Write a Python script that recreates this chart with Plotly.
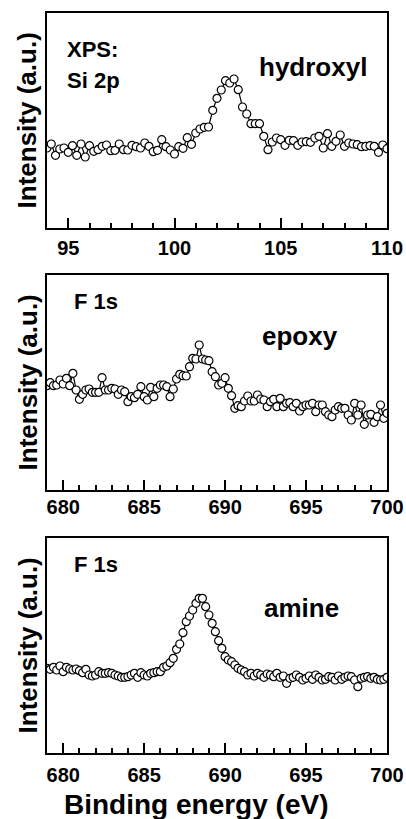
import plotly.graph_objects as go

# ---------------- data ----------------
# Panel 1: Si 2p, hydroxyl  (binding energy starts 94.0 eV, step 0.2 eV)
si2p_start = 94.0
si2p_step = 0.2
si2p_hydroxyl = [80, 84, 72.7, 79, 80, 75.7, 82.3, 72.7, 84, 71, 82.3, 76.7, 78.3, 81.7, 83,
                 77.3, 77.7, 84, 78.3, 78, 82.7, 81.3, 80, 85, 81.7, 76.3, 77.7, 88.3, 81.3, 78,
                 74, 81.3, 79.7, 90.3, 83.7, 95, 99, 100.7, 101, 117.7, 129.7, 138, 147.3, 145,
                 149, 138.3, 121, 114, 104.3, 104.3, 104.3, 91.7, 78.3, 86, 90, 88.3, 82.7, 87.7,
                 87.3, 82.7, 86, 86.3, 85.7, 90, 91.7, 80, 94.3, 81.7, 86.7, 93, 81.7, 85, 84,
                 83.3, 81.3, 81.7, 82.3, 81.7, 75.7, 83, 79.3]

# Panel 2: F 1s, epoxy  (starts 679.0 eV, step 0.2 eV)
f1s_start = 679.0
f1s_step = 0.2
f1s_epoxy = [104.3, 107.3, 104.3, 105, 110, 106, 111.7, 104.3, 116.7, 100, 90.7, 95.7, 100, 101,
             97.7, 97.7, 97.7, 112.3, 100, 100, 101.7, 101, 95.7, 100, 98.3, 88.3, 93.3, 92.3,
             95.7, 103.3, 93.3, 90, 102.7, 93.3, 101.7, 105, 105, 103.3, 93.3, 101, 111, 115.7,
             114.3, 114, 123.3, 131.7, 131, 145, 131, 130, 129.3, 118.3, 113.3, 105,
             106.7, 112.3, 101.7, 94.3, 81.7, 84.3, 83.3, 89, 94, 89, 89, 95, 91, 90, 83.3,
             88.3, 90.7, 83.3, 91.7, 83.3, 86.7, 87.3, 83.3, 86.7, 79, 83.3, 85, 85, 86.7,
             78.3, 85, 85, 78.3, 75, 73.3, 80, 83.3, 81.7, 81.7, 75, 70, 86.7, 75, 85, 65.7,
             75, 75.7, 67.7, 73.3, 85, 71.7, 76.7]

# Panel 3: F 1s, amine  (starts 679.0 eV, step 0.2 eV)
f1s_amine = [84.7, 83.7, 85.7, 83, 87, 81.3, 85.7, 84, 83, 84, 82.3, 80.3, 83.7, 78, 77, 78,
             81.3, 79.7, 79.7, 80.3, 79.7, 78, 77, 75.7, 75.7, 76.3, 78, 79.7, 75.7, 80.3, 78,
             77, 79.7, 80.3, 81.3, 81.3, 85.7, 87, 90.3, 94.7, 103.7, 109, 120.3, 131.3, 137,
             143, 149.7, 154.7, 154.7, 146.3, 138, 129.7, 121.3, 112.3,
             104.7, 96.3, 93, 91.3, 88, 84.7, 83, 81.3, 78, 79.7, 77, 79.7, 78, 75.7, 79, 78,
             76.3, 79.7, 75.7, 77, 69.7, 74.7, 75.7, 78, 75.7, 73, 74.7, 77, 73.7, 78, 75.7,
             73, 73.7, 76.3, 75.7, 73, 77, 73.7, 75.7, 77, 76.3, 73, 66.3, 74.7, 75.7, 76.3,
             74.7, 75.7, 73.7, 73, 73.7, 75.7]

panel_labels = [["XPS:", "Si 2p"], ["F 1s"], ["F 1s"]]
sample_labels = ["hydroxyl", "epoxy", "amine"]
x_ranges = [[94, 110], [679, 700], [679, 700]]
x_tickvals = [[95, 100, 105, 110], [680, 685, 690, 695, 700], [680, 685, 690, 695, 700]]
y_title = "Intensity (a.u.)"
x_title = "Binding energy (eV)"

# ---------------- figure ----------------
W, H = 406, 819
ML, MR, MT, MB = 47, 19, 13, 66
domains = [[0.7095, 1.0], [0.3554, 0.6459], [0.0, 0.2905]]

FONT = "Arial, Liberation Sans, Helvetica, sans-serif"
fig = go.Figure()

series = [(si2p_hydroxyl, si2p_start, si2p_step),
          (f1s_epoxy, f1s_start, f1s_step),
          (f1s_amine, f1s_start, f1s_step)]

for i, (ys, x0, dx) in enumerate(series):
    ax = "" if i == 0 else str(i + 1)
    fig.add_trace(go.Scatter(
        y=ys, x0=x0, dx=dx, mode="lines+markers",
        line=dict(color="black", width=1.2),
        marker=dict(symbol="circle", size=8, color="white",
                    line=dict(color="black", width=1.2)),
        xaxis="x" + ax, yaxis="y" + ax, showlegend=False,
    ))

standoffs = [1, -2, 3]
layout = dict(width=W, height=H, margin=dict(l=ML, r=MR, t=MT, b=MB, autoexpand=False),
              paper_bgcolor="white", plot_bgcolor="white", showlegend=False,
              font=dict(family=FONT, color="black"))
for i in range(3):
    ax = "" if i == 0 else str(i + 1)
    layout["xaxis" + ax] = dict(
        range=x_ranges[i], tickvals=x_tickvals[i], ticks="inside", ticklen=10,
        tickwidth=2, tickcolor="black", showline=True, linecolor="black",
        linewidth=2, mirror=True, showgrid=False, zeroline=False, automargin=False,
        anchor="y" + ax, ticklabelstandoff=standoffs[i],
        tickfont=dict(family=FONT, size=20, color="black", weight="bold"),
        minor=dict(dtick=1, ticks="inside", ticklen=5, tickwidth=2,
                   tickcolor="black", showgrid=False),
    )
    layout["yaxis" + ax] = dict(
        domain=domains[i], range=[0, 215], showticklabels=False, ticks="",
        showline=True, linecolor="black", linewidth=2, mirror=True, automargin=False,
        showgrid=False, zeroline=False, anchor="x" + ax,
    )
fig.update_layout(**layout)

ann = []
label_pos = [[(0.053, 0.828), (0.053, 0.688)], [(0.0735, 0.877)], [(0.0735, 0.879)]]
sample_pos = [(0.618, 0.749), (0.626, 0.718), (0.632, 0.676)]
for i in range(3):
    ax = "" if i == 0 else str(i + 1)
    for txt, (px, py) in zip(panel_labels[i], label_pos[i]):
        ann.append(dict(text=txt, x=px, y=py, xref="x" + ax + " domain", yref="y" + ax + " domain",
                        xanchor="left", yanchor="middle", showarrow=False,
                        font=dict(family=FONT, size=22, color="black", weight="bold")))
    sx, sy = sample_pos[i]
    ann.append(dict(text=sample_labels[i], x=sx, y=sy, xref="x" + ax + " domain",
                    yref="y" + ax + " domain", xanchor="left", yanchor="middle",
                    showarrow=False,
                    font=dict(family=FONT, size=26, color="black", weight="bold")))
    ann.append(dict(text=y_title, x=-0.056, y=0.5, xref="paper", yref="y" + ax + " domain",
                    xanchor="center", yanchor="middle", textangle=-90, showarrow=False,
                    font=dict(family=FONT, size=26, color="black", weight="bold")))
ann.append(dict(text=x_title, x=0.438, y=-0.069, xref="paper", yref="paper",
                xanchor="center", yanchor="middle", showarrow=False,
                font=dict(family=FONT, size=28, color="black", weight="bold")))
fig.update_layout(annotations=ann)

fig.write_html("out.html", config={"displayModeBar": False},
               post_script="document.body.style.margin='0';document.body.style.padding='0';")
